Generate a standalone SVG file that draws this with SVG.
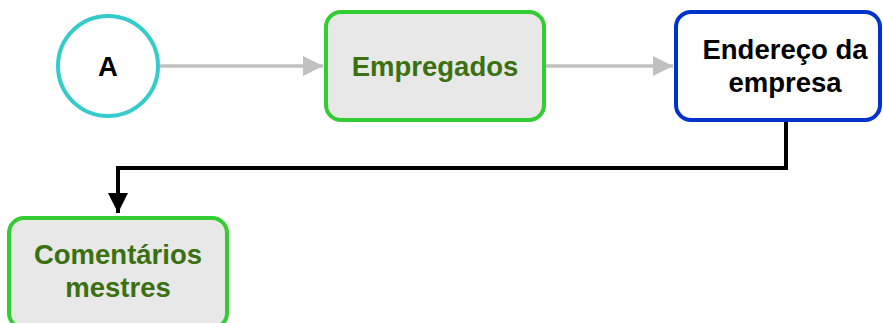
<svg xmlns="http://www.w3.org/2000/svg" width="883" height="323" viewBox="0 0 883 323">
<defs>
<style>
.t{font-family:"Liberation Sans",Arial,sans-serif;font-weight:bold;font-size:27.5px;text-anchor:middle}
.g{fill:#3A7010}
.k{fill:#000}
.gb{fill:#E8E8E8;stroke:#33CC33;stroke-width:4}
.gray{fill:none;stroke:#C0C0C0;stroke-width:3.5}
.blk{fill:none;stroke:#000;stroke-width:4}
</style>
<marker id="ag" viewBox="0 0 10 10" refX="10" refY="5" markerWidth="20" markerHeight="20" markerUnits="userSpaceOnUse" orient="auto"><path d="M0,0 L10,5 L0,10 Z" fill="#C0C0C0"/></marker>
<marker id="ab" viewBox="0 0 10 10" refX="10" refY="5" markerWidth="20" markerHeight="20" markerUnits="userSpaceOnUse" orient="auto"><path d="M0,0 L10,5 L0,10 Z" fill="#000"/></marker>
</defs>
<g id="connectors">
<path class="gray" d="M160,66 H323" marker-end="url(#ag)"/>
<path class="gray" d="M545,66 H673" marker-end="url(#ag)"/>
<path class="blk" d="M786,121 V168 H118 V213" marker-end="url(#ab)"/>
</g>
<g id="nodeA">
<circle cx="108" cy="66" r="50" fill="#fff" stroke="#33CCCC" stroke-width="4"/>
<text class="t k" x="108" y="76" font-size="25">A</text>
</g>
<g id="empregados">
<rect class="gb" x="326" y="12" width="218" height="108" rx="15"/>
<text class="t g" x="435" y="76">Empregados</text>
</g>
<g id="endereco">
<rect x="676" y="12" width="204" height="108" rx="15" fill="#fff" stroke="#0033CC" stroke-width="4"/>
<text class="t k" x="785" y="59">Endereço da</text>
<text class="t k" x="785" y="92">empresa</text>
</g>
<g id="comentarios">
<rect class="gb" x="9" y="218" width="218" height="110" rx="15"/>
<text class="t g" x="118" y="264">Comentários</text>
<text class="t g" x="118" y="297">mestres</text>
</g>
</svg>
